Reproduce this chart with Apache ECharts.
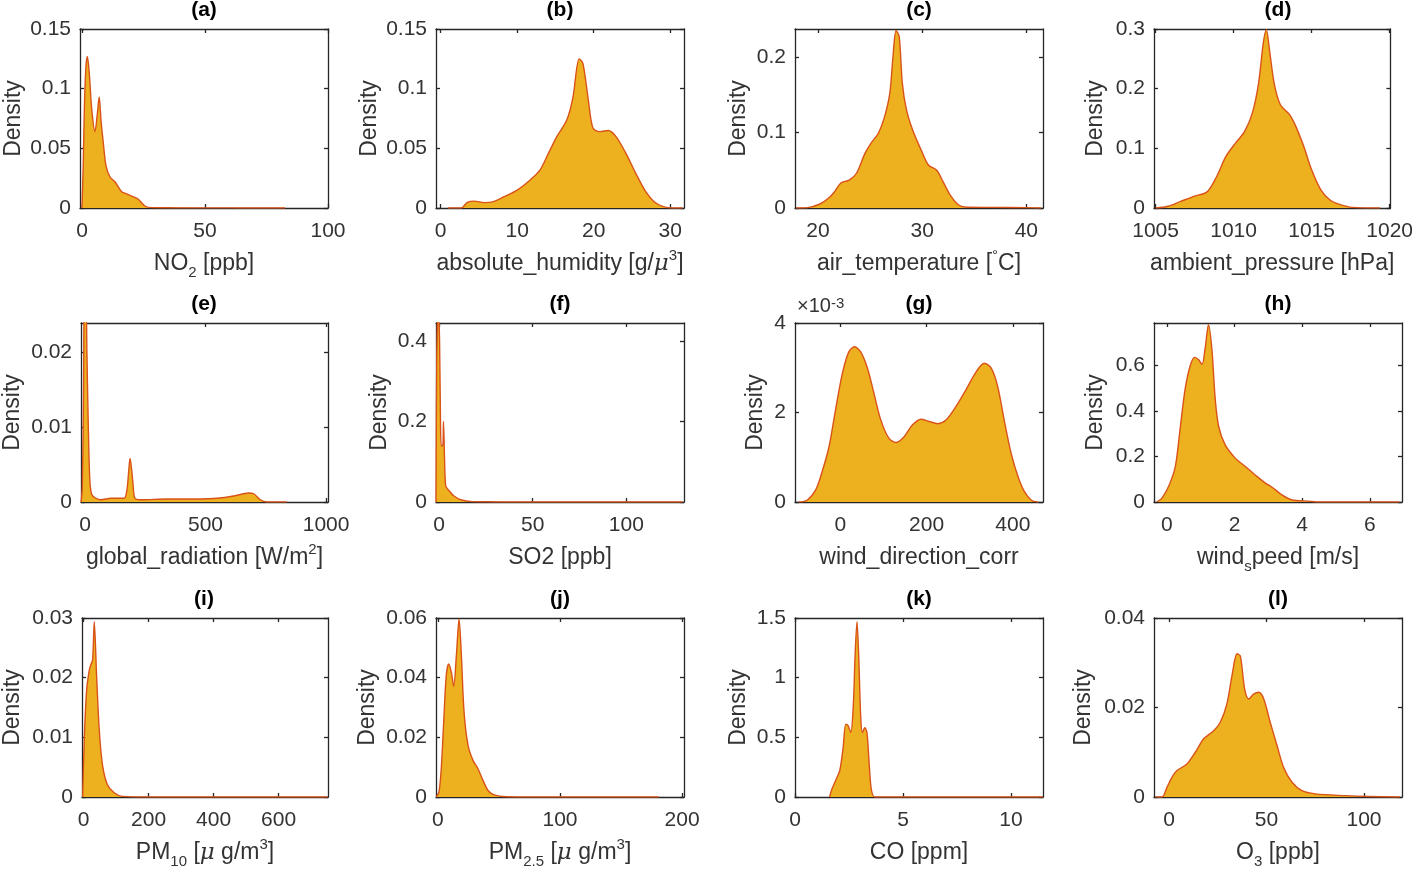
<!DOCTYPE html>
<html><head><meta charset="utf-8">
<script src="https://cdn.jsdelivr.net/npm/echarts@6/dist/echarts.min.js"></script>
<style>html,body{margin:0;padding:0;background:#fff}#c{width:1416px;height:882px}</style>
</head><body><div id="c"></div>
<script>
// ---------- data ----------
const no2X = [0, 0.5, 1.0, 1.6, 2.2, 3.0, 4.0, 5.3, 6.2, 7.0, 7.8, 8.7, 9.8, 11.4, 13.4, 16.1, 18.0, 20.2, 22.9, 25.6, 28.3, 35, 45, 60, 70, 82.5];
const no2Y = [0, 0.035, 0.085, 0.118, 0.127, 0.112, 0.082, 0.064, 0.078, 0.093, 0.072, 0.054, 0.035, 0.026, 0.022, 0.0137, 0.012, 0.010, 0.0073, 0.0017, 0.0003, 0.0002, 0.0001, 0.0001, 0, 0];
const humX = [0.95, 2.7, 3.5, 4.4, 5.7, 6.9, 8.3, 10.0, 11.7, 13.0, 14.1, 15.2, 16.5, 17.3, 18.1, 18.6, 19.3, 19.9, 20.8, 21.9, 22.9, 24.2, 25.5, 26.8, 27.9, 29.0, 30.3, 31.6];
const humY = [0, 0, 0.0048, 0.0058, 0.0045, 0.0053, 0.0095, 0.015, 0.0235, 0.032, 0.046, 0.060, 0.074, 0.093, 0.125, 0.121, 0.0905, 0.067, 0.064, 0.065, 0.060, 0.046, 0.029, 0.0137, 0.0053, 0.0014, 0, 0];
const tempX = [17.9, 19.0, 20.2, 21.0, 21.6, 22.2, 23.0, 23.7, 24.5, 25.1, 25.8, 26.4, 26.9, 27.2, 27.5, 27.8, 28.1, 28.5, 29.1, 29.9, 30.6, 31.4, 32.0, 32.7, 33.5, 34.3, 36.7, 39.9, 41.4];
const tempY = [0, 0.0005, 0.0053, 0.0128, 0.0216, 0.033, 0.037, 0.046, 0.072, 0.086, 0.099, 0.121, 0.152, 0.200, 0.235, 0.227, 0.165, 0.130, 0.103, 0.077, 0.057, 0.050, 0.035, 0.017, 0.004, 0.001, 0.0008, 0.0005, 0];
const presX = [1005.0, 1005.8, 1006.6, 1007.5, 1008.3, 1008.9, 1009.5, 1010.1, 1010.7, 1011.2, 1011.6, 1011.9, 1012.1, 1012.3, 1012.6, 1013.0, 1013.6, 1014.0, 1014.5, 1015.0, 1015.6, 1016.2, 1016.8, 1017.6, 1019.4];
const presY = [0, 0.003, 0.011, 0.020, 0.027, 0.052, 0.086, 0.108, 0.128, 0.159, 0.209, 0.276, 0.299, 0.265, 0.209, 0.173, 0.156, 0.136, 0.103, 0.064, 0.030, 0.013, 0.006, 0.001, 0];
const radX = [-16, -11, -6, -2, 3, 8, 13.6, 20, 28, 45, 66, 107, 162, 174, 181, 187, 193, 199, 207, 231, 342, 479, 548, 617, 679, 700, 727, 755, 837];
const radY = [0, 0.002, 0.015, 0.03, 0.03, 0.02, 0.0105, 0.003, 0.001, 0.0005, 0.0003, 0.0005, 0.0005, 0.0016, 0.004, 0.0058, 0.0045, 0.0025, 0.0005, 0.0003, 0.0004, 0.0004, 0.0005, 0.0008, 0.0012, 0.0011, 0.0003, 0, 0];
const so2X = [-1.6, -1.2, -0.4, 0.3, 0.8, 1.2, 2.0, 2.4, 3.0, 3.6, 5.0, 8, 12, 18, 25, 40, 60, 90, 130];
const so2Y = [0, 0.35, 0.5, 0.4, 0.2, 0.14, 0.14, 0.2, 0.1, 0.04, 0.03, 0.015, 0.005, 0.001, 0.0005, 0, 0, 0, 0];
const wdirX = [-96, -77, -57, -42, -26, -11, 5, 20, 33, 47, 63, 78, 94, 113, 129, 148, 167, 187, 206, 226, 245, 268, 291, 315, 334, 350, 365, 380, 396, 412, 427, 443, 458];
const wdirY = [0, 0.00004, 0.00027, 0.00068, 0.00124, 0.00206, 0.00288, 0.00336, 0.00347, 0.00336, 0.00299, 0.00243, 0.00183, 0.00142, 0.00133, 0.00146, 0.00172, 0.00185, 0.00180, 0.00175, 0.00183, 0.00213, 0.00250, 0.00291, 0.00310, 0.00299, 0.00258, 0.00183, 0.00109, 0.00057, 0.00023, 0.00004, 0];
const wspdX = [-0.30, -0.15, 0.05, 0.25, 0.39, 0.54, 0.69, 0.82, 0.94, 1.04, 1.13, 1.23, 1.33, 1.43, 1.53, 1.72, 2.02, 2.32, 2.61, 2.91, 3.11, 3.40, 3.70, 4.19, 4.49, 6.86];
const wspdY = [0, 0.016, 0.068, 0.156, 0.319, 0.496, 0.599, 0.636, 0.625, 0.605, 0.673, 0.779, 0.673, 0.451, 0.333, 0.252, 0.193, 0.156, 0.119, 0.083, 0.065, 0.031, 0.009, 0.004, 0, 0];
const pm10X = [-3, 2.4, 9.4, 17.6, 22.5, 27.7, 32.8, 39.8, 48, 58, 73, 94, 119, 200, 400, 600, 750];
const pm10Y = [0, 0.0102, 0.018, 0.0213, 0.0222, 0.0230, 0.0294, 0.0205, 0.0113, 0.0054, 0.0021, 0.0007, 0.0001, 0, 0, 0, 0];
const pm25X = [-1.4, 0.8, 2.7, 4.7, 6.8, 8.8, 11.0, 12.9, 15.1, 17.3, 19.2, 21.4, 24.7, 28.8, 32.9, 37.0, 41.2, 46.7, 56, 100, 150, 181];
const pm25Y = [0, 0.0016, 0.0094, 0.025, 0.0407, 0.0446, 0.0418, 0.0371, 0.0474, 0.0597, 0.0474, 0.0284, 0.0172, 0.0122, 0.0094, 0.0055, 0.0021, 0.0006, 0.0001, 0, 0, 0];
const coX = [1.60, 1.71, 1.91, 2.07, 2.22, 2.35, 2.45, 2.58, 2.70, 2.78, 2.87, 2.95, 3.04, 3.12, 3.23, 3.33, 3.43, 3.53, 3.69, 4.3, 8, 11.48];
const coY = [0, 0.067, 0.151, 0.22, 0.40, 0.61, 0.60, 0.54, 0.77, 1.18, 1.47, 1.18, 0.68, 0.54, 0.58, 0.54, 0.29, 0.067, 0, 0, 0, 0];
const o3X = [-7.0, -3.6, -1.0, 1.5, 4.1, 9.2, 13.5, 17.8, 22.9, 26.3, 29.7, 32.3, 34.9, 36.6, 38.8, 40.9, 43.4, 46.0, 48.6, 51.9, 55.4, 58.8, 63.1, 68.2, 75, 90.4, 102, 118.6];
const o3Y = [0, 0, 0.0022, 0.0044, 0.0059, 0.0074, 0.0100, 0.0130, 0.0148, 0.0167, 0.0208, 0.0271, 0.0320, 0.0315, 0.0241, 0.0219, 0.0230, 0.0234, 0.0219, 0.0167, 0.0115, 0.0066, 0.0033, 0.0014, 0.0007, 0.0003, 0.0001, 0];

// tick values and labels
const no2XTicks = [0, 50, 100];          const no2YTicks = [0, 0.05, 0.1, 0.15];   const no2YLabels = ['0', '0.05', '0.1', '0.15'];
const humXTicks = [0, 10, 20, 30];       const humYTicks = [0, 0.05, 0.1, 0.15];   const humYLabels = ['0', '0.05', '0.1', '0.15'];
const tempXTicks = [20, 30, 40];         const tempYTicks = [0, 0.1, 0.2];         const tempYLabels = ['0', '0.1', '0.2'];
const presXTicks = [1005, 1010, 1015, 1020]; const presYTicks = [0, 0.1, 0.2, 0.3]; const presYLabels = ['0', '0.1', '0.2', '0.3'];
const radXTicks = [0, 500, 1000];        const radYTicks = [0, 0.01, 0.02];        const radYLabels = ['0', '0.01', '0.02'];
const so2XTicks = [0, 50, 100];          const so2YTicks = [0, 0.2, 0.4];          const so2YLabels = ['0', '0.2', '0.4'];
const wdirXTicks = [0, 200, 400];        const wdirYTicks = [0, 0.002, 0.004];     const wdirYLabels = ['0', '2', '4'];
const wspdXTicks = [0, 2, 4, 6];         const wspdYTicks = [0, 0.2, 0.4, 0.6];    const wspdYLabels = ['0', '0.2', '0.4', '0.6'];
const pm10XTicks = [0, 200, 400, 600];   const pm10YTicks = [0, 0.01, 0.02, 0.03]; const pm10YLabels = ['0', '0.01', '0.02', '0.03'];
const pm25XTicks = [0, 100, 200];        const pm25YTicks = [0, 0.02, 0.04, 0.06]; const pm25YLabels = ['0', '0.02', '0.04', '0.06'];
const coXTicks = [0, 5, 10];             const coYTicks = [0, 0.5, 1, 1.5];        const coYLabels = ['0', '0.5', '1', '1.5'];
const o3XTicks = [0, 50, 100];           const o3YTicks = [0, 0.02, 0.04];         const o3YLabels = ['0', '0.02', '0.04'];

const panelTags = ['(a)', '(b)', '(c)', '(d)', '(e)', '(f)', '(g)', '(h)', '(i)', '(j)', '(k)', '(l)'];
const xNames = [
  'NO{sub|2} [ppb]', 'absolute_humidity [g/{mu|μ}{sup|3}]', 'air_temperature [{sup|°}C]', 'ambient_pressure [hPa]',
  'global_radiation [W/m{sup|2}]', 'SO2 [ppb]', 'wind_direction_corr', 'wind{sub|s}peed [m/s]',
  'PM{sub|10} [{mu|μ} g/m{sup|3}]', 'PM{sub|2.5} [{mu|μ} g/m{sup|3}]', 'CO [ppm]', 'O{sub|3} [ppb]'
];

// ---------- layout ----------
const colLeft = [80, 436, 795, 1154], rowTop = [29, 323, 618], W = 248, H = 179;
const panels = [
  {xs: no2X,  ys: no2Y,  xt: no2XTicks,  yt: no2YTicks,  yl: no2YLabels,  xmin: -0.8, xmax: 100,    ymax: 0.15,  ygap: 55},
  {xs: humX,  ys: humY,  xt: humXTicks,  yt: humYTicks,  yl: humYLabels,  xmin: -0.6, xmax: 31.8,   ymax: 0.15,  ygap: 55},
  {xs: tempX, ys: tempY, xt: tempXTicks, yt: tempYTicks, yl: tempYLabels, xmin: 17.8, xmax: 41.6,   ymax: 0.237, ygap: 45},
  {xs: presX, ys: presY, xt: presXTicks, yt: presYTicks, yl: presYLabels, xmin: 1004.9, xmax: 1020.05, ymax: 0.3, ygap: 47},
  {xs: radX,  ys: radY,  xt: radXTicks,  yt: radYTicks,  yl: radYLabels,  xmin: -16.5, xmax: 1008,  ymax: 0.0239, ygap: 57},
  {xs: so2X,  ys: so2Y,  xt: so2XTicks,  yt: so2YTicks,  yl: so2YLabels,  xmin: -1.6, xmax: 130.8,  ymax: 0.445, ygap: 45},
  {xs: wdirX, ys: wdirY, xt: wdirXTicks, yt: wdirYTicks, yl: wdirYLabels, xmin: -105, xmax: 470,    ymax: 0.004, ygap: 28},
  {xs: wspdX, ys: wspdY, xt: wspdXTicks, yt: wspdYTicks, yl: wspdYLabels, xmin: -0.38, xmax: 6.95,  ymax: 0.787, ygap: 47},
  {xs: pm10X, ys: pm10Y, xt: pm10XTicks, yt: pm10YTicks, yl: pm10YLabels, xmin: -5, xmax: 752,      ymax: 0.03,  ygap: 58},
  {xs: pm25X, ys: pm25Y, xt: pm25XTicks, yt: pm25YTicks, yl: pm25YLabels, xmin: -1.6, xmax: 201.6,  ymax: 0.06,  ygap: 57},
  {xs: coX,   ys: coY,   xt: coXTicks,   yt: coYTicks,   yl: coYLabels,   xmin: 0, xmax: 11.48,     ymax: 1.5,   ygap: 45},
  {xs: o3X,   ys: o3Y,   xt: o3XTicks,   yt: o3YTicks,   yl: o3YLabels,   xmin: -7.7, xmax: 119.5,  ymax: 0.04,  ygap: 59}
];

const AX = '#262626', TXT = '#333333', FONT = '"Liberation Sans", Arial, Helvetica, sans-serif';
const TICK_FS = 21, NAME_FS = 23;
const rich = {
  sub: {fontSize: 15, lineHeight: 15, verticalAlign: 'bottom', color: TXT, fontFamily: FONT},
  sup: {fontSize: 15, lineHeight: 15, verticalAlign: 'top', color: TXT, fontFamily: FONT},
  mu: {fontSize: NAME_FS, fontStyle: 'italic', color: TXT, fontFamily: '"DejaVu Serif", serif'}
};

const grid = [], xAxis = [], yAxis = [], series = [], graphic = [];
panels.forEach((p, i) => {
  const r = Math.floor(i / 4), c = i % 4;
  grid.push({left: colLeft[c], top: rowTop[r], width: W, height: H, containLabel: false});
  const lineStyle = {color: AX, width: 1.3};
  xAxis.push({
    type: 'value', gridIndex: i, min: p.xmin, max: p.xmax, position: 'bottom',
    axisLine: {show: true, onZero: false, lineStyle},
    axisTick: {show: true, inside: true, length: 4, lineStyle, customValues: p.xt},
    axisLabel: {show: true, customValues: p.xt, color: TXT, fontSize: TICK_FS, fontFamily: FONT, margin: 13,
      formatter: v => String(v)},
    splitLine: {show: false},
    name: xNames[i], nameLocation: 'middle', nameGap: 40,
    nameTextStyle: {color: TXT, fontSize: NAME_FS, fontFamily: FONT, lineHeight: 32, rich}
  });
  xAxis.push({
    type: 'value', gridIndex: i, min: p.xmin, max: p.xmax, position: 'top',
    axisLine: {show: true, onZero: false, lineStyle},
    axisTick: {show: true, inside: true, length: 4, lineStyle, customValues: p.xt},
    axisLabel: {show: false}, splitLine: {show: false}
  });
  yAxis.push({
    type: 'value', gridIndex: i, min: 0, max: p.ymax, position: 'left',
    axisLine: {show: true, onZero: false, lineStyle},
    axisTick: {show: true, inside: true, length: 4, lineStyle, customValues: p.yt},
    axisLabel: {show: true, customValues: p.yt, color: TXT, fontSize: TICK_FS, fontFamily: FONT, margin: 9,
      formatter: v => { const k = p.yt.findIndex(t => Math.abs(t - v) < 1e-9); return k >= 0 ? p.yl[k] : ''; }},
    splitLine: {show: false},
    name: 'Density', nameLocation: 'middle', nameGap: p.ygap,
    nameTextStyle: {color: TXT, fontSize: NAME_FS, fontFamily: FONT}
  });
  yAxis.push({
    type: 'value', gridIndex: i, min: 0, max: p.ymax, position: 'right',
    axisLine: {show: true, onZero: false, lineStyle},
    axisTick: {show: true, inside: true, length: 4, lineStyle, customValues: p.yt},
    axisLabel: {show: false}, splitLine: {show: false}
  });
  series.push({
    type: 'line', xAxisIndex: 2 * i, yAxisIndex: 2 * i,
    data: p.xs.map((x, k) => [x, p.ys[k]]),
    showSymbol: false, symbol: 'none', smooth: 0.3, clip: true,
    lineStyle: {color: '#D95319', width: 1.4},
    areaStyle: {color: '#EDB120', opacity: 1},
    z: 1
  });
  graphic.push({
    type: 'text', x: colLeft[c] + W / 2, y: rowTop[r] - 29,
    style: {text: panelTags[i], fill: '#000', font: 'bold 21px ' + FONT, textAlign: 'center', align: 'center', textVerticalAlign: 'top', verticalAlign: 'top'}
  });
});
graphic.push({
  type: 'text', x: colLeft[2] + 2, y: rowTop[1] - 27,
  style: {text: '×10{sup|-3}', fill: TXT, font: '20px ' + FONT,
    rich: {sup: {fontSize: 15, verticalAlign: 'top', fill: TXT, fontFamily: FONT}}}
});

const chart = echarts.init(document.getElementById('c'), null, {renderer: 'canvas'});
chart.setOption({animation: false, backgroundColor: '#fff', grid, xAxis, yAxis, series, graphic});
</script></body></html>
